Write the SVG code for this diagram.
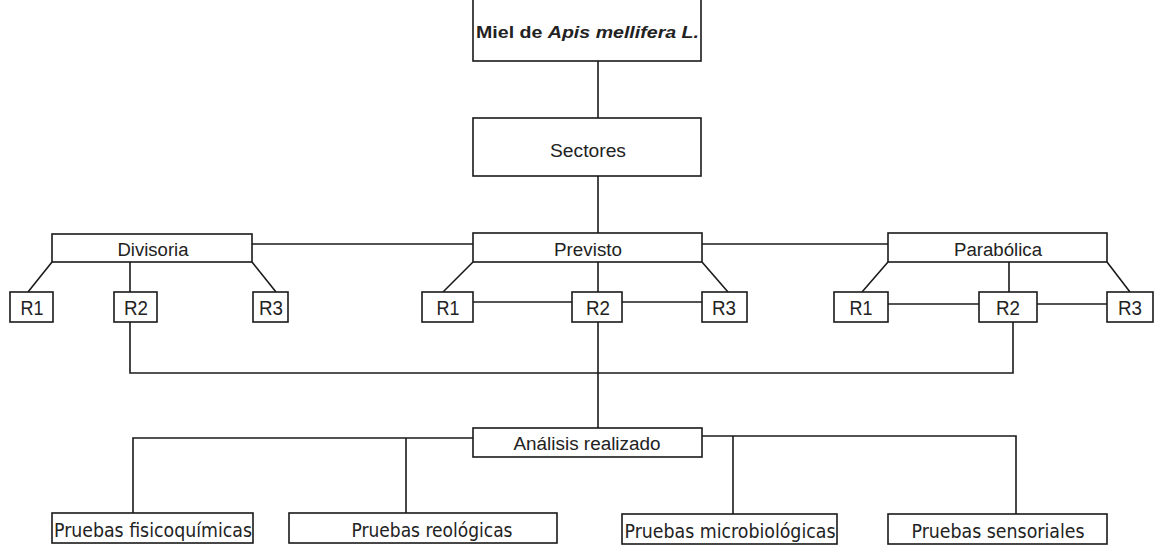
<svg xmlns="http://www.w3.org/2000/svg" width="1154" height="546" viewBox="0 0 1154 546">
<style>
.box{fill:#fff;stroke:#1a1a1a;stroke-width:1.6}
.ln{fill:none;stroke:#1a1a1a;stroke-width:1.6}
.t{font-family:"Liberation Sans",Arial,sans-serif;font-size:18px;fill:#222;text-anchor:middle}
.r{font-family:"Liberation Sans",Arial,sans-serif;font-size:20px;fill:#222;text-anchor:middle}
.p{font-family:"DejaVu Sans Condensed","DejaVu Sans",sans-serif;font-size:19px;fill:#222;text-anchor:middle}
</style>
<rect width="1154" height="546" fill="#fff"/>
<g id="connectors">
<line class="ln" x1="598" y1="61" x2="598" y2="118"/>
<line class="ln" x1="598" y1="176" x2="598" y2="233"/>
<line class="ln" x1="252" y1="244" x2="473" y2="244"/>
<line class="ln" x1="702" y1="244" x2="888" y2="244"/>
<line class="ln" x1="52" y1="262" x2="28" y2="292"/>
<line class="ln" x1="130" y1="262" x2="130" y2="292"/>
<line class="ln" x1="252" y1="262" x2="276" y2="292"/>
<line class="ln" x1="473" y1="262" x2="443" y2="292"/>
<line class="ln" x1="598" y1="262" x2="598" y2="292"/>
<line class="ln" x1="702" y1="262" x2="728" y2="292"/>
<line class="ln" x1="473" y1="302" x2="572" y2="302"/>
<line class="ln" x1="622" y1="302" x2="702" y2="302"/>
<line class="ln" x1="888" y1="262" x2="862" y2="292"/>
<line class="ln" x1="1009" y1="262" x2="1009" y2="292"/>
<line class="ln" x1="1107" y1="262" x2="1130" y2="292"/>
<line class="ln" x1="888" y1="304" x2="979" y2="304"/>
<line class="ln" x1="1037" y1="304" x2="1107" y2="304"/>
<polyline class="ln" points="130,322 130,373 1013,373 1013,322"/>
<line class="ln" x1="598" y1="322" x2="598" y2="428"/>
<polyline class="ln" points="473,438 133,438 133,513"/>
<line class="ln" x1="406" y1="438" x2="406" y2="513"/>
<polyline class="ln" points="702,436 1016,436 1016,514"/>
<line class="ln" x1="733" y1="436" x2="733" y2="514"/>
</g>
<g id="miel">
<rect class="box" x="473" y="-5" width="228" height="66"/>
<text x="476" y="38" font-family="Liberation Sans,Arial,sans-serif" font-size="17" font-weight="bold" fill="#222" textLength="223" lengthAdjust="spacingAndGlyphs">Miel de <tspan font-style="italic">Apis mellifera L.</tspan></text>
</g>
<g id="sectores">
<rect class="box" x="473" y="118" width="228" height="58"/>
<text class="t" x="588" y="157" font-size="19" textLength="76" lengthAdjust="spacingAndGlyphs">Sectores</text>
</g>
<g id="divisoria">
<rect class="box" x="52" y="234" width="200" height="28"/>
<text class="t" x="153" y="256" textLength="71" lengthAdjust="spacingAndGlyphs">Divisoria</text>
</g>
<g id="previsto">
<rect class="box" x="473" y="233" width="229" height="29"/>
<text class="t" x="588" y="256" textLength="68" lengthAdjust="spacingAndGlyphs">Previsto</text>
</g>
<g id="parabolica">
<rect class="box" x="888" y="233" width="219" height="29"/>
<text class="t" x="998" y="256" textLength="88" lengthAdjust="spacingAndGlyphs">Parabólica</text>
</g>
<g id="div-r1"><rect class="box" x="10" y="292" width="43" height="30"/><text class="r" x="32" y="315" textLength="23" lengthAdjust="spacingAndGlyphs">R1</text></g>
<g id="div-r2"><rect class="box" x="114" y="292" width="43" height="30"/><text class="r" x="136" y="315" textLength="24" lengthAdjust="spacingAndGlyphs">R2</text></g>
<g id="div-r3"><rect class="box" x="253" y="292" width="35" height="30"/><text class="r" x="271" y="315" textLength="24" lengthAdjust="spacingAndGlyphs">R3</text></g>
<g id="pre-r1"><rect class="box" x="422" y="292" width="51" height="30"/><text class="r" x="448" y="315" textLength="23" lengthAdjust="spacingAndGlyphs">R1</text></g>
<g id="pre-r2"><rect class="box" x="572" y="292" width="50" height="30"/><text class="r" x="598" y="315" textLength="24" lengthAdjust="spacingAndGlyphs">R2</text></g>
<g id="pre-r3"><rect class="box" x="702" y="292" width="45" height="30"/><text class="r" x="724" y="315" textLength="24" lengthAdjust="spacingAndGlyphs">R3</text></g>
<g id="par-r1"><rect class="box" x="834" y="292" width="54" height="30"/><text class="r" x="861" y="315" textLength="23" lengthAdjust="spacingAndGlyphs">R1</text></g>
<g id="par-r2"><rect class="box" x="979" y="292" width="58" height="30"/><text class="r" x="1008" y="315" textLength="24" lengthAdjust="spacingAndGlyphs">R2</text></g>
<g id="par-r3"><rect class="box" x="1107" y="292" width="46" height="30"/><text class="r" x="1130" y="315" textLength="24" lengthAdjust="spacingAndGlyphs">R3</text></g>
<g id="analisis">
<rect class="box" x="473" y="428" width="229" height="29"/>
<text class="t" x="587" y="450" font-size="19" textLength="147" lengthAdjust="spacingAndGlyphs">Análisis realizado</text>
</g>
<g id="fisicoquimicas">
<rect class="box" x="52" y="513" width="201" height="30"/>
<text class="p" x="153" y="537" textLength="198" lengthAdjust="spacingAndGlyphs">Pruebas fisicoquímicas</text>
</g>
<g id="reologicas">
<rect class="box" x="289" y="513" width="268" height="30"/>
<text class="p" x="432" y="537" textLength="161" lengthAdjust="spacingAndGlyphs">Pruebas reológicas</text>
</g>
<g id="microbiologicas">
<rect class="box" x="622" y="514" width="215" height="30"/>
<text class="p" x="730" y="538" textLength="211" lengthAdjust="spacingAndGlyphs">Pruebas microbiológicas</text>
</g>
<g id="sensoriales">
<rect class="box" x="888" y="514" width="219" height="30"/>
<text class="p" x="998" y="538" textLength="173" lengthAdjust="spacingAndGlyphs">Pruebas sensoriales</text>
</g>
</svg>
